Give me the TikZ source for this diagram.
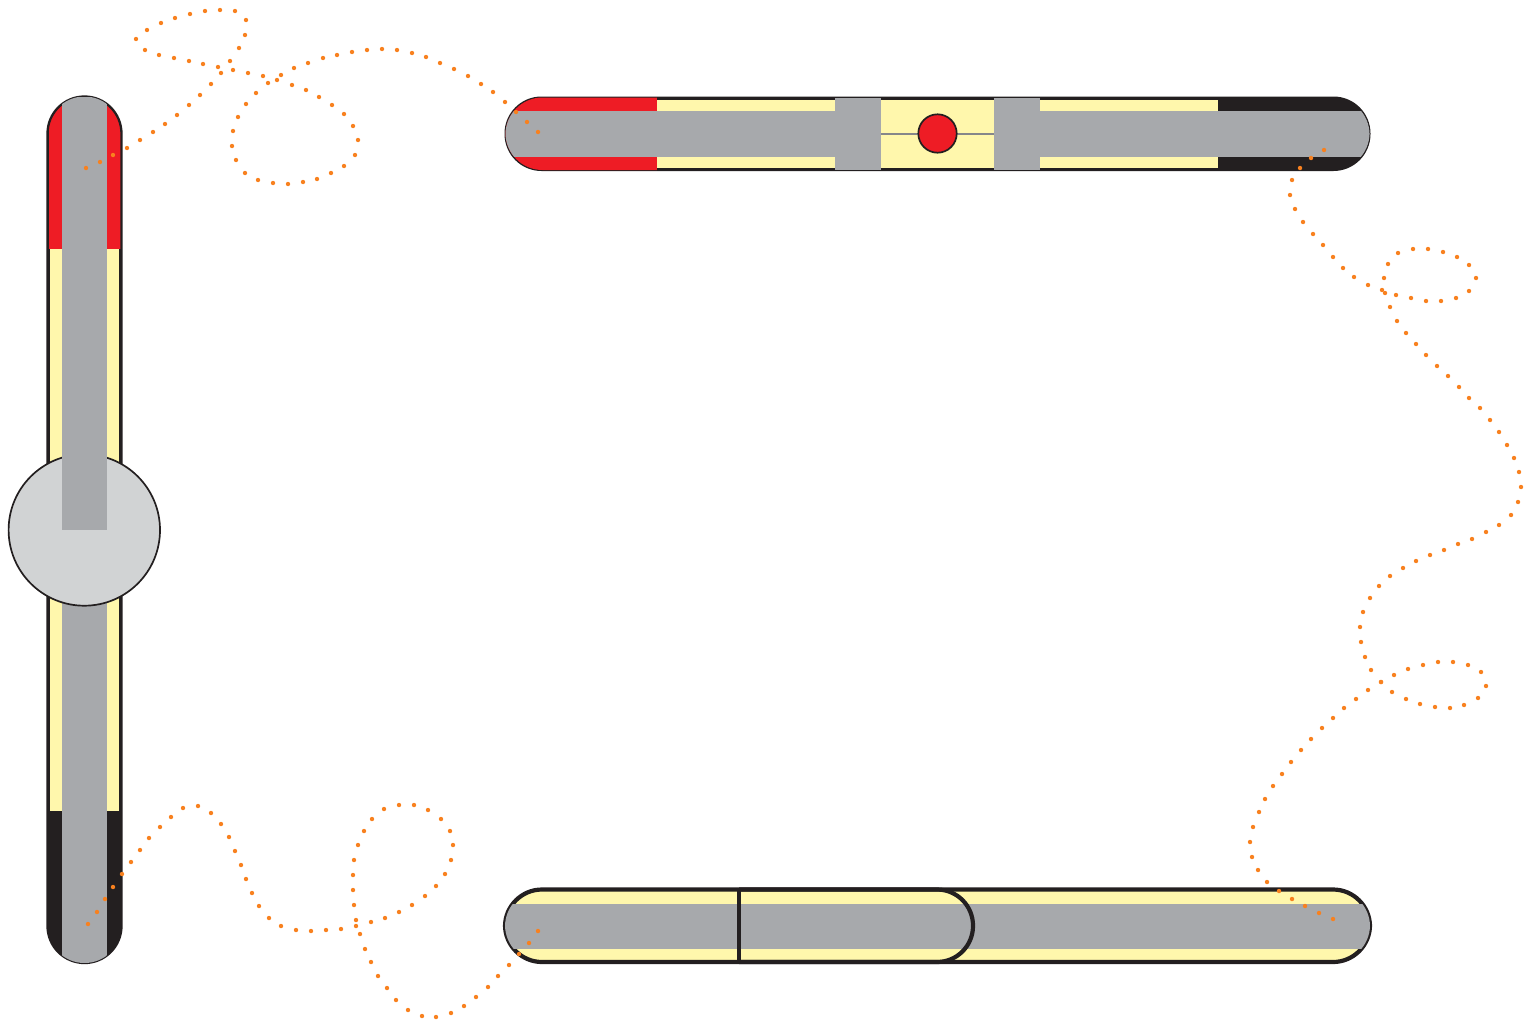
\documentclass[tikz,border=0pt]{standalone}
\definecolor{barred}{HTML}{EE1C25}
\definecolor{baryellow}{HTML}{FFF7AC}
\definecolor{barblack}{HTML}{231F20}
\definecolor{bargrey}{HTML}{A7A9AC}
\definecolor{hubgrey}{HTML}{D1D3D4}
\definecolor{wireorange}{HTML}{F8811F}
\tikzset{
  wire/.style={draw=wireorange,fill=wireorange,line width=0.1pt},
  wiredots/.style={only marks,mark=*,mark size=2.1pt},
  outline/.style={draw=barblack,line width=2.3pt},
  heavyline/.style={draw=barblack,line width=4.2pt},
  capsule/.style={rounded corners=37pt}
}
\begin{document}
\begin{tikzpicture}[x=1pt,y=-1pt]
\useasboundingbox (0,0) rectangle (1525,1023);

% ---------- left vertical bar ----------
\fill[barblack,capsule] (47.5,96.5) rectangle (121.5,963);
\begin{scope}
  \clip[capsule] (47.5,96.5) rectangle (121.5,963);
  \fill[barred] (48.5,96.5) rectangle (120.5,249);
  \fill[baryellow] (50,249) rectangle (118.5,811);
\end{scope}
\draw[outline,capsule] (47.5,96.5) rectangle (121.5,963);
\begin{scope}
  \clip[capsule] (47.5,96.5) rectangle (121.5,963);
  \fill[bargrey] (62,96.5) rectangle (107,963);
\end{scope}
\filldraw[fill=hubgrey,draw=barblack,line width=1.7pt] (84.3,530) circle[radius=75.7];
\fill[bargrey] (62,440) rectangle (107,530);

% ---------- top horizontal bar ----------
\fill[barblack,capsule] (504.5,96.5) rectangle (1370.5,171);
\begin{scope}
  \clip[capsule] (505.5,97.5) rectangle (1369.5,170);
  \fill[barred] (504,96) rectangle (656.5,171);
  \fill[baryellow] (656.5,100.2) rectangle (1218,167.5);
  \fill[bargrey] (504,111) rectangle (881,156.5);
  \fill[bargrey] (994,111) rectangle (1371,156.5);
  \fill[bargrey] (835,98) rectangle (881,170);
  \fill[bargrey] (994,98) rectangle (1040,170);
\end{scope}
\draw[draw=bargrey!80!black,line width=2pt] (881,133.5) -- (994,133.5);
\filldraw[fill=barred,draw=barblack,line width=1.7pt] (937.5,133.5) circle[radius=19.2];

% ---------- bottom horizontal bar ----------
\fill[baryellow,capsule] (505,889.5) rectangle (1370,962);
\draw[heavyline,capsule] (505,889.5) rectangle (1370,962);
\begin{scope}
  \clip[capsule] (505,889.5) rectangle (1370,962);
  \fill[bargrey] (504,903.5) rectangle (1371,949);
\end{scope}
\draw[draw=barblack,line width=3.6pt] (739,889.5) -- (739,962);
\draw[heavyline,rounded corners=36pt] (739,889.5) -- (973,889.5) -- (973,962) -- (739,962);

% ---------- dotted wires ----------
\path[wire] plot[wiredots] coordinates {
(86,168)(100,162)(113,155)(127,148)(140,140)(153,132)(165,124)(177,115)(189,105)(200,95)
(211,84)(221,73)(230,61)(239,48)(245,35)(246,20)(235,11)(220,10)(205,11)(190,14)
(175,18)(161,23)(147,30)(136,39)(145,50)(159,55)(174,58)(189,61)(203,64)(218,67)
(233,70)(248,73)(263,76)(277,80)(292,85)(306,90)(319,97)(332,105)(344,114)(353,126)
(358,140)(355,155)(344,166)(331,173)(317,179)(303,182)(288,184)(273,183)(258,180)(245,173)
(236,160)(232,146)(233,131)(238,117)(246,104)(256,93)(268,83)(281,75)(294,68)(308,63)
(323,58)(337,55)(352,52)(367,50)(382,49)(397,50)(412,53)(426,57)(440,63)(454,69)
(468,76)(481,84)(493,92)(505,102)(516,112)(527,122)(538,132)};

\path[wire] plot[wiredots] coordinates {
(88,924)(97,912)(105,899)(113,887)(122,874)(131,862)(140,850)(149,838)(160,827)(171,817)
(183,808)(198,806)(211,813)(221,824)(229,837)(235,851)(241,865)(246,879)(252,893)(259,906)
(269,918)(281,926)(296,930)(311,931)(326,930)(341,929)(356,926)(371,922)(385,918)(399,912)
(412,905)(425,896)(436,886)(445,874)(451,860)(453,845)(450,831)(441,819)(428,810)(414,805)
(399,805)(384,809)(372,819)(364,831)(358,845)(354,860)(353,875)(353,890)(354,905)(356,920)
(360,934)(365,949)(371,962)(378,976)(387,988)(396,1000)(408,1010)(422,1016)(436,1017)(451,1013)
(464,1006)(476,997)(488,987)(498,976)(509,965)(519,954)(529,943)(538,931)};

\path[wire] plot[wiredots] coordinates {
(1324,150)(1311,158)(1300,168)(1292,180)(1290,195)(1295,209)(1303,222)(1313,234)(1323,245)(1333,257)
(1343,268)(1354,277)(1368,285)(1382,290)(1396,295)(1411,298)(1426,301)(1441,301)(1456,298)(1469,291)
(1476,278)(1469,265)(1457,257)(1443,252)(1428,249)(1413,249)(1398,253)(1388,264)(1384,278)(1385,293)
(1390,307)(1397,321)(1406,333)(1416,344)(1426,355)(1437,366)(1448,376)(1459,387)(1469,398)(1480,408)
(1490,420)(1499,432)(1507,445)(1514,458)(1519,472)(1521,487)(1518,502)(1511,515)(1499,525)(1486,532)
(1472,539)(1458,544)(1444,550)(1430,555)(1416,561)(1403,568)(1390,576)(1379,586)(1370,598)(1363,612)
(1360,627)(1361,642)(1365,657)(1371,670)(1381,682)(1392,692)(1406,699)(1420,704)(1435,707)(1450,708)
(1464,705)(1478,698)(1486,686)(1481,672)(1468,665)(1453,662)(1438,662)(1423,665)(1408,669)(1394,675)
(1381,682)(1368,690)(1356,699)(1344,708)(1333,718)(1322,728)(1311,739)(1301,750)(1291,762)(1282,774)
(1273,786)(1265,799)(1259,812)(1253,827)(1250,842)(1252,857)(1258,870)(1267,882)(1279,891)(1292,899)
(1305,906)(1319,913)(1333,919)};
\end{tikzpicture}
\end{document}
